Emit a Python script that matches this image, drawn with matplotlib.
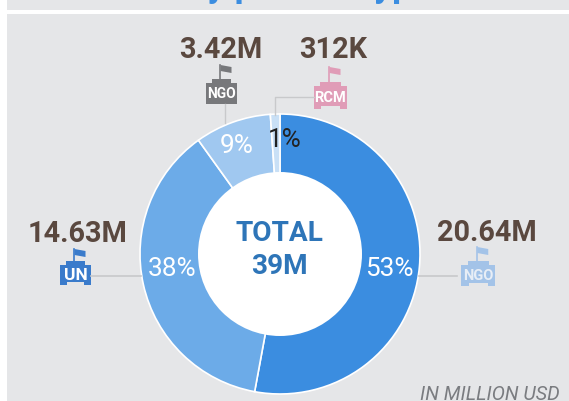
import matplotlib
matplotlib.use("Agg")
import matplotlib.pyplot as plt
from matplotlib.patches import Rectangle, Polygon, Circle

partners = ["Gov NGO", "UN", "NGO", "RCM"]
shares = [52.9, 37.2, 8.8, 1.1]
labels = ["53%", "38%", "9%", "1%"]
amounts = ["20.64M", "14.63M", "3.42M", "312K"]
colors = ["#3B8DE0", "#6CABE8", "#A0C8F0", "#C9E0F6"]
label_colors = ["white", "white", "white", "#222222"]
total_lines = "TOTAL\n39M"
note = "IN MILLION USD"
title = "Allocations by partner type"

W, H = 569, 402
plt.rcParams["font.family"] = ["Roboto", "DejaVu Sans"]
fig = plt.figure(figsize=(W/100, H/100), dpi=100, facecolor="white")
bg = fig.add_axes([0, 0, 1, 1])
bg.set_xlim(0, W); bg.set_ylim(H, 0); bg.axis("off")
PANEL = "#E5E6E8"
BROWN = "#5A483F"
bg.add_patch(Rectangle((7, 15), W-7, H-15, fc=PANEL, ec="none"))
bg.add_patch(Rectangle((7, 0), W-7, 11, fc=PANEL, ec="none"))
bg.text(-5, -4.5, title, color="#3B8DE0", fontsize=26, fontweight="bold", ha="left", va="baseline")

cx, cy, R = 280, 255, 140
ax = fig.add_axes([(cx-R)/W, 1-(cy+R)/H, 2*R/W, 2*R/H])
ax.set_aspect("equal")
wedges, _ = ax.pie(shares, colors=colors, startangle=90, counterclock=False, radius=1,
                   wedgeprops=dict(edgecolor="white", linewidth=1.2))
ax.add_patch(Circle((0, 0), 82/140, fc="white", ec="none", zorder=5))
ax.set_xlim(-1, 1); ax.set_ylim(-1, 1)

top = fig.add_axes([0, 0, 1, 1], facecolor="none")
top.set_xlim(0, W); top.set_ylim(H, 0); top.axis("off")
pct_pos = [(389, 269), (172, 269), (236.5, 146), (285, 140)]
for (x, y), s, c in zip(pct_pos, labels, label_colors):
    top.text(x, y, s, color=c, fontsize=18.8, ha="center", va="center")

top.text(279, 250, total_lines, color="#2E75B8", fontsize=20.2, fontweight="bold",
         ha="center", va="center", linespacing=1.3)
top.text(560, 395, note, color="#7A7C80", fontsize=14.2, style="italic", ha="right", va="center")

LINE = "#C8C9CB"
top.plot([225, 225], [105, 124], color=LINE, lw=1)
top.plot([314, 275, 275], [97.5, 97.5, 116], color=LINE, lw=1)
top.plot([91, 141], [277, 277], color=LINE, lw=1.2)
top.plot([419, 457], [277, 277], color=LINE, lw=1.2)

def icon(l, r, t, b, color, text, fs, flag_top, tc="white", notch=3):
    """building with flag"""
    x = (l+r)/2
    n = (r-l)*0.18
    pts = [(l, t+4), (l+n, t+4), (l+n, t), (r-n, t), (r-n, t+4), (r, t+4), (r, b),
           (r-n*1.2, b), (r-n*1.2, b-notch), (l+n*1.2, b-notch), (l+n*1.2, b), (l, b)]
    top.add_patch(Polygon(pts, closed=True, fc=color, ec="none"))
    top.plot([x-1, x-1], [t, flag_top], color=color, lw=1.2)
    top.add_patch(Polygon([(x-1, flag_top), (x+10, flag_top+2), (x+10, flag_top+8), (x-1, flag_top+6)],
                          closed=True, fc=color, ec="none"))
    top.text(x, (t+b)/2+1.5, text, color=tc, fontsize=fs, fontweight="bold", ha="center", va="center")

icon(60, 91, 262, 286, "#3A7BCB", "UN", 12.5, 250)
icon(461.5, 495, 262, 287, "#A3C3E8", "NGO", 10.5, 248, "#E8EEF6")
icon(206, 237, 80, 105, "#77787B", "NGO", 10, 66, notch=0)
icon(314, 347, 83, 110, "#E09CB7", "RCM", 10.5, 68)

for (x, y), s in zip([(78, 234), (487, 233), (221, 49.5), (333, 49.5)],
                     [amounts[1], amounts[0], amounts[2], amounts[3]]):
    top.text(x, y, s, color=BROWN, fontsize=20.8, fontweight="bold", ha="center", va="center")

fig.savefig("out.png", dpi=100, facecolor="white")
